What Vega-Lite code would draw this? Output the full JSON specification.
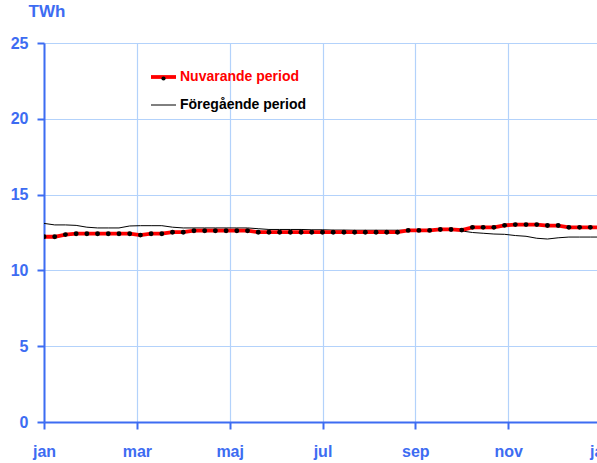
{
  "$schema": "https://vega.github.io/schema/vega-lite/v6.json",
  "width": 557,
  "height": 379,
  "autosize": {"type": "none"},
  "padding": {"left": 44, "top": 43, "right": 0, "bottom": 41},
  "background": "white",
  "config": {"view": {"stroke": null}, "font": "Liberation Sans"},
  "datasets": {
    "nu": [
      {"w": 0, "s": "Nuvarande period", "v": 12.22}, {"w": 1, "s": "Nuvarande period", "v": 12.22},
      {"w": 2, "s": "Nuvarande period", "v": 12.36}, {"w": 3, "s": "Nuvarande period", "v": 12.42},
      {"w": 4, "s": "Nuvarande period", "v": 12.42}, {"w": 5, "s": "Nuvarande period", "v": 12.42},
      {"w": 6, "s": "Nuvarande period", "v": 12.42}, {"w": 7, "s": "Nuvarande period", "v": 12.42},
      {"w": 8, "s": "Nuvarande period", "v": 12.42}, {"w": 9, "s": "Nuvarande period", "v": 12.33},
      {"w": 10, "s": "Nuvarande period", "v": 12.42}, {"w": 11, "s": "Nuvarande period", "v": 12.42},
      {"w": 12, "s": "Nuvarande period", "v": 12.52}, {"w": 13, "s": "Nuvarande period", "v": 12.52},
      {"w": 14, "s": "Nuvarande period", "v": 12.62}, {"w": 15, "s": "Nuvarande period", "v": 12.62},
      {"w": 16, "s": "Nuvarande period", "v": 12.62}, {"w": 17, "s": "Nuvarande period", "v": 12.62},
      {"w": 18, "s": "Nuvarande period", "v": 12.62}, {"w": 19, "s": "Nuvarande period", "v": 12.62},
      {"w": 20, "s": "Nuvarande period", "v": 12.52}, {"w": 21, "s": "Nuvarande period", "v": 12.52},
      {"w": 22, "s": "Nuvarande period", "v": 12.52}, {"w": 23, "s": "Nuvarande period", "v": 12.52},
      {"w": 24, "s": "Nuvarande period", "v": 12.52}, {"w": 25, "s": "Nuvarande period", "v": 12.52},
      {"w": 26, "s": "Nuvarande period", "v": 12.52}, {"w": 27, "s": "Nuvarande period", "v": 12.52},
      {"w": 28, "s": "Nuvarande period", "v": 12.52}, {"w": 29, "s": "Nuvarande period", "v": 12.52},
      {"w": 30, "s": "Nuvarande period", "v": 12.52}, {"w": 31, "s": "Nuvarande period", "v": 12.52},
      {"w": 32, "s": "Nuvarande period", "v": 12.52}, {"w": 33, "s": "Nuvarande period", "v": 12.52},
      {"w": 34, "s": "Nuvarande period", "v": 12.64}, {"w": 35, "s": "Nuvarande period", "v": 12.64},
      {"w": 36, "s": "Nuvarande period", "v": 12.64}, {"w": 37, "s": "Nuvarande period", "v": 12.7},
      {"w": 38, "s": "Nuvarande period", "v": 12.7}, {"w": 39, "s": "Nuvarande period", "v": 12.66},
      {"w": 40, "s": "Nuvarande period", "v": 12.84}, {"w": 41, "s": "Nuvarande period", "v": 12.84},
      {"w": 42, "s": "Nuvarande period", "v": 12.84}, {"w": 43, "s": "Nuvarande period", "v": 12.97},
      {"w": 44, "s": "Nuvarande period", "v": 13.02}, {"w": 45, "s": "Nuvarande period", "v": 13.02},
      {"w": 46, "s": "Nuvarande period", "v": 13.02}, {"w": 47, "s": "Nuvarande period", "v": 12.96},
      {"w": 48, "s": "Nuvarande period", "v": 12.96}, {"w": 49, "s": "Nuvarande period", "v": 12.84},
      {"w": 50, "s": "Nuvarande period", "v": 12.84}, {"w": 51, "s": "Nuvarande period", "v": 12.84},
      {"w": 52, "s": "Nuvarande period", "v": 12.84}
    ],
    "fg": [
      {"w": 0, "s": "Föregående period", "v": 13.1}, {"w": 1, "s": "Föregående period", "v": 13.0},
      {"w": 2, "s": "Föregående period", "v": 13.0}, {"w": 3, "s": "Föregående period", "v": 12.97},
      {"w": 4, "s": "Föregående period", "v": 12.85}, {"w": 5, "s": "Föregående period", "v": 12.8},
      {"w": 6, "s": "Föregående period", "v": 12.8}, {"w": 7, "s": "Föregående period", "v": 12.8},
      {"w": 8, "s": "Föregående period", "v": 12.93}, {"w": 9, "s": "Föregående period", "v": 12.95},
      {"w": 10, "s": "Föregående period", "v": 12.95}, {"w": 11, "s": "Föregående period", "v": 12.95},
      {"w": 12, "s": "Föregående period", "v": 12.85}, {"w": 13, "s": "Föregående period", "v": 12.8},
      {"w": 14, "s": "Föregående period", "v": 12.8}, {"w": 15, "s": "Föregående period", "v": 12.8},
      {"w": 16, "s": "Föregående period", "v": 12.8}, {"w": 17, "s": "Föregående period", "v": 12.8},
      {"w": 18, "s": "Föregående period", "v": 12.8}, {"w": 19, "s": "Föregående period", "v": 12.8},
      {"w": 20, "s": "Föregående period", "v": 12.75}, {"w": 21, "s": "Föregående period", "v": 12.7},
      {"w": 22, "s": "Föregående period", "v": 12.7}, {"w": 23, "s": "Föregående period", "v": 12.7},
      {"w": 24, "s": "Föregående period", "v": 12.7}, {"w": 25, "s": "Föregående period", "v": 12.68},
      {"w": 26, "s": "Föregående period", "v": 12.68}, {"w": 27, "s": "Föregående period", "v": 12.66},
      {"w": 28, "s": "Föregående period", "v": 12.66}, {"w": 29, "s": "Föregående period", "v": 12.65},
      {"w": 30, "s": "Föregående period", "v": 12.65}, {"w": 31, "s": "Föregående period", "v": 12.65},
      {"w": 32, "s": "Föregående period", "v": 12.65}, {"w": 33, "s": "Föregående period", "v": 12.65},
      {"w": 34, "s": "Föregående period", "v": 12.65}, {"w": 35, "s": "Föregående period", "v": 12.65},
      {"w": 36, "s": "Föregående period", "v": 12.65}, {"w": 37, "s": "Föregående period", "v": 12.65},
      {"w": 38, "s": "Föregående period", "v": 12.65}, {"w": 39, "s": "Föregående period", "v": 12.6},
      {"w": 40, "s": "Föregående period", "v": 12.5}, {"w": 41, "s": "Föregående period", "v": 12.45},
      {"w": 42, "s": "Föregående period", "v": 12.4}, {"w": 43, "s": "Föregående period", "v": 12.38},
      {"w": 44, "s": "Föregående period", "v": 12.3}, {"w": 45, "s": "Föregående period", "v": 12.25},
      {"w": 46, "s": "Föregående period", "v": 12.12}, {"w": 47, "s": "Föregående period", "v": 12.07},
      {"w": 48, "s": "Föregående period", "v": 12.15}, {"w": 49, "s": "Föregående period", "v": 12.2},
      {"w": 50, "s": "Föregående period", "v": 12.2}, {"w": 51, "s": "Föregående period", "v": 12.2},
      {"w": 52, "s": "Föregående period", "v": 12.2}
    ]
  },
  "encoding": {
    "x": {
      "field": "w", "type": "quantitative",
      "scale": {"domain": [0, 52], "nice": false, "zero": false},
      "axis": {
        "title": null,
        "values": [0, 8.6667, 17.3333, 26, 34.6667, 43.3333, 52],
        "labelExpr": "['jan','mar','maj','jul','sep','nov','jan'][round(datum.value/8.6667)]",
        "labelFont": "Liberation Sans", "labelFontWeight": "bold", "labelFontSize": 16,
        "labelColor": "#3d6cf2", "labelPadding": 14, "labelFlush": false,
        "tickSize": 7, "tickWidth": 2, "tickColor": "#3d6cf2",
        "domainColor": "#3d6cf2", "domainWidth": 2,
        "grid": true, "gridColor": "#b3d2fb", "gridWidth": 1.2
      }
    },
    "y": {
      "field": "v", "type": "quantitative",
      "scale": {"domain": [0, 25], "nice": false},
      "axis": {
        "title": "TWh", "titleAngle": 0, "titleX": -16, "titleY": -27,
        "titleAlign": "left", "titleBaseline": "alphabetic",
        "titleFont": "Liberation Sans", "titleFontWeight": "bold", "titleFontSize": 17, "titleColor": "#3d6cf2",
        "values": [0, 5, 10, 15, 20, 25],
        "labelFont": "Liberation Sans", "labelFontWeight": "bold", "labelFontSize": 16,
        "labelColor": "#3d6cf2", "labelPadding": 9,
        "tickSize": 7, "tickWidth": 2, "tickColor": "#3d6cf2",
        "domainColor": "#3d6cf2", "domainWidth": 2,
        "grid": true, "gridColor": "#b3d2fb", "gridWidth": 1.2
      }
    }
  },
  "layer": [
    {
      "data": {"name": "fg"},
      "mark": {"type": "line", "strokeWidth": 1, "clip": true},
      "encoding": {
        "color": {
          "field": "s", "type": "nominal",
          "scale": {"domain": ["Nuvarande period", "Föregående period"], "range": ["#ff0000", "#000000"]},
          "legend": {
            "orient": "none", "legendX": 112.5, "legendY": 27, "title": null,
            "symbolType": "stroke", "symbolSize": 625, "symbolStrokeWidth": 1,
            "labelFont": "Liberation Sans", "labelFontWeight": "bold", "labelFontSize": 14,
            "labelOffset": 9.5, "rowPadding": 13, "padding": 0,
            "encode": {
              "symbols": {"update": {"strokeWidth": {"signal": "datum.label === 'Nuvarande period' ? 3.8 : 1"}}},
              "labels": {"update": {"fill": {"signal": "datum.label === 'Nuvarande period' ? '#ff0000' : '#000000'"}}}
            }
          }
        }
      }
    },
    {
      "data": {"name": "nu"},
      "mark": {"type": "line", "strokeWidth": 3.8, "clip": true},
      "encoding": {
        "color": {"field": "s", "type": "nominal"}
      }
    },
    {
      "data": {"name": "nu"},
      "mark": {"type": "point", "filled": true, "size": 24, "opacity": 1, "color": "#000000", "clip": true},
      "encoding": {
        "shape": {
          "datum": "Nuvarande period",
          "scale": {"range": ["circle"]},
          "legend": {
            "orient": "none", "legendX": 113, "legendY": 29, "title": null,
            "symbolFillColor": "#000000", "symbolStrokeColor": "#000000", "symbolSize": 18,
            "labelExpr": "''", "labelFontSize": 13, "padding": 0
          }
        }
      }
    }
  ]
}
